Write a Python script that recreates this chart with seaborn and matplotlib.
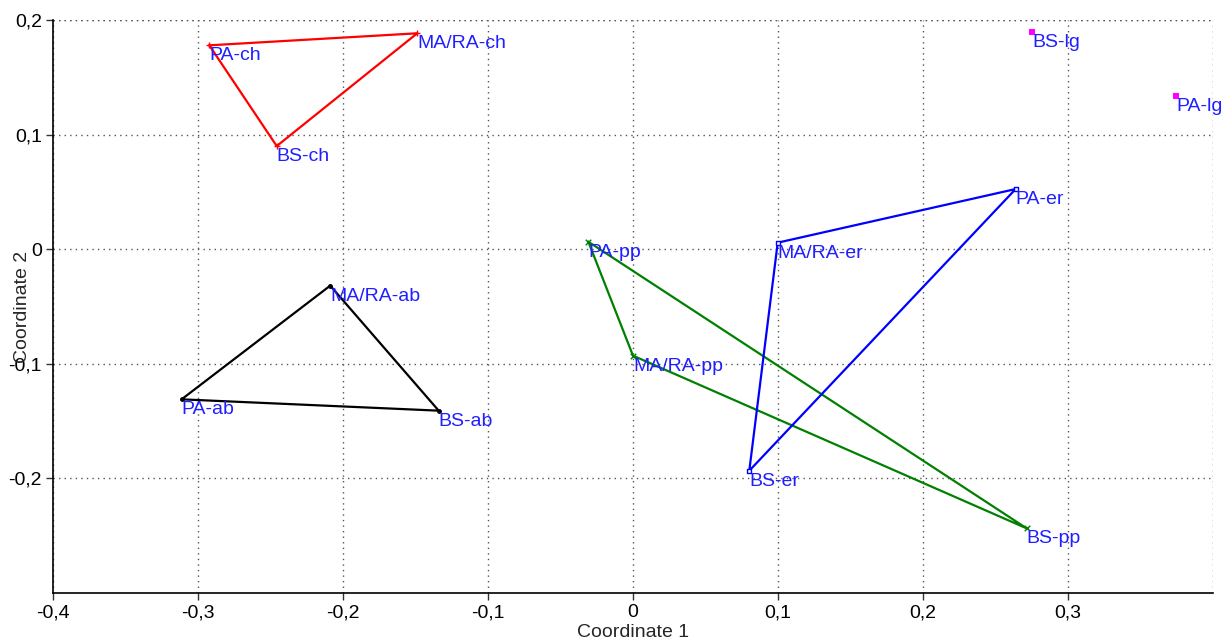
import matplotlib
matplotlib.use("Agg")
import matplotlib.pyplot as plt
import seaborn as sns
import pandas as pd

# Data
labels_ch = ["PA-ch", "MA/RA-ch", "BS-ch"]
x_ch = [-0.2922, -0.1488, -0.2457]
y_ch = [0.1779, 0.1884, 0.0900]

labels_ab = ["MA/RA-ab", "PA-ab", "BS-ab"]
x_ab = [-0.2088, -0.3113, -0.1340]
y_ab = [-0.0318, -0.1310, -0.1409]

labels_pp = ["PA-pp", "MA/RA-pp", "BS-pp"]
x_pp = [-0.0308, 0.0000, 0.2715]
y_pp = [0.0065, -0.0929, -0.2436]

labels_er = ["MA/RA-er", "PA-er", "BS-er"]
x_er = [0.0998, 0.2639, 0.0802]
y_er = [0.0057, 0.0525, -0.1933]

labels_lg = ["BS-lg", "PA-lg"]
x_lg = [0.2752, 0.3745]
y_lg = [0.1898, 0.1340]

xticks = [-0.4, -0.3, -0.2, -0.1, 0.0, 0.1, 0.2, 0.3]
yticks = [-0.2, -0.1, 0.0, 0.1, 0.2]

sns.set_style("white")
plt.rcParams['font.family'] = ['Liberation Sans', 'DejaVu Sans']

FS = 14

fig = plt.figure(figsize=(12.29, 6.40), dpi=100)
ax = fig.add_axes([53/1229, 1 - 593/640, (1213-53)/1229, (593-20)/640])

groups = [
    (labels_ch, x_ch, y_ch, "#ff0000", "+", 5, True),
    (labels_ab, x_ab, y_ab, "#000000", "o", 2.5, True),
    (labels_pp, x_pp, y_pp, "#008000", "x", 4, True),
    (labels_er, x_er, y_er, "#0000ff", "s", 3.2, False),
]

for labs, xs, ys, col, mk, ms, filled in groups:
    df = pd.DataFrame({"x": xs + xs[:1], "y": ys + ys[:1]})
    sns.lineplot(data=df, x="x", y="y", sort=False, estimator=None,
                 color=col, linewidth=1.6, ax=ax)
    pts = pd.DataFrame({"x": xs, "y": ys})
    if filled:
        sns.scatterplot(data=pts, x="x", y="y", marker=mk, s=ms**2,
                        color=col, edgecolor=col, linewidth=1, ax=ax, zorder=3)
    else:
        sns.scatterplot(data=pts, x="x", y="y", marker=mk, s=ms**2,
                        facecolor="white", edgecolor=col, linewidth=1, ax=ax, zorder=3)

pts_lg = pd.DataFrame({"x": x_lg, "y": y_lg})
sns.scatterplot(data=pts_lg, x="x", y="y", marker="s", s=14, color="#ff00ff",
                edgecolor="#ff00ff", linewidth=0, ax=ax, zorder=3)

all_labels = labels_ch + labels_ab + labels_pp + labels_er + labels_lg
all_x = x_ch + x_ab + x_pp + x_er + x_lg
all_y = y_ch + y_ab + y_pp + y_er + y_lg
for lab, xv, yv in zip(all_labels, all_x, all_y):
    ax.annotate(lab, (xv, yv), xytext=(0, -1.5), textcoords="offset points",
                ha="left", va="top", color="#1f1fff", fontsize=FS, zorder=4)

ax.set_xlim(-0.4, 0.4)
ax.set_ylim(-0.3, 0.2)
ax.set_xticks(xticks)
ax.set_yticks(yticks)
ax.set_xticklabels([f"{v:.1f}".replace(".", ",") if v != 0 else "0" for v in xticks])
ax.set_yticklabels([f"{v:.1f}".replace(".", ",") if v != 0 else "0" for v in yticks])
ax.tick_params(axis="both", direction="out", length=5, width=1, color="#333333",
               labelsize=FS, labelcolor="black", bottom=True, left=True, pad=3)

ax.grid(True, linestyle=(0, (1, 3)), color="#555555", linewidth=1)
ax.axvline(0.4, linestyle=(0, (1, 3)), color="#555555", linewidth=1)
ax.axhline(0.2, linestyle=(0, (1, 3)), color="#555555", linewidth=1)

for s in ["top", "right"]:
    ax.spines[s].set_visible(False)
for s in ["left", "bottom"]:
    ax.spines[s].set_color("black")
    ax.spines[s].set_linewidth(1.2)

ax.set_xlabel("Coordinate 1", fontsize=FS, labelpad=2)
ax.set_ylabel("Coordinate 2", fontsize=FS)
ax.yaxis.set_label_coords(-0.019, 0.50)

fig.savefig("out.png", dpi=100, facecolor="white")
